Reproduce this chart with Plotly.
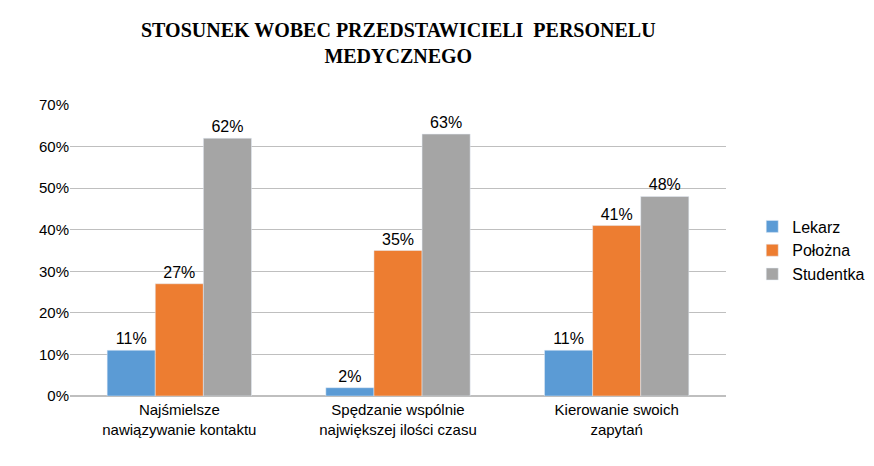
import plotly.graph_objects as go

categories = ["Najśmielsze<br>nawiązywanie kontaktu",
              "Spędzanie wspólnie<br>największej ilości czasu",
              "Kierowanie swoich<br>zapytań"]
lekarz = [11, 2, 11]
polozna = [27, 35, 41]
studentka = [62, 63, 48]

series = [("Lekarz", lekarz, "#5B9BD5"),
          ("Położna", polozna, "#ED7D31"),
          ("Studentka", studentka, "#A5A5A5")]

fig = go.Figure()
for name, vals, color in series:
    fig.add_trace(go.Bar(
        x=categories, y=vals, name=name,
        marker=dict(color=color),
        text=[f"{v}%" for v in vals], textposition="outside",
        textfont=dict(size=16, color="#000"), cliponaxis=False,
    ))

# title as a paper annotation so it sits where the reference has it
fig.add_annotation(
    text="<b>STOSUNEK WOBEC PRZEDSTAWICIELI  PERSONELU<br>MEDYCZNEGO</b>",
    xref="paper", yref="paper", x=0.5, y=1.0, yshift=88,
    xanchor="center", yanchor="top", showarrow=False,
    font=dict(family="Liberation Serif, Times New Roman", size=20),
)

fig.update_layout(
    width=874, height=466,
    paper_bgcolor="white", plot_bgcolor="white",
    font=dict(family="Liberation Sans, Arial", size=15, color="#000"),
    barmode="group", bargap=0.34, bargroupgap=0,
    margin=dict(l=62, r=156, t=97, b=78, autoexpand=False),
    legend=dict(x=1.04, y=0.5, yanchor="middle", font=dict(size=16),
                itemwidth=30, tracegroupgap=10),
    xaxis=dict(showline=True, linecolor="#BFBFBF", ticks="",
               tickfont=dict(size=15)),
    yaxis=dict(range=[0, 70], dtick=10, ticksuffix="%", gridcolor="#BFBFBF",
               showline=False, zeroline=True, zerolinecolor="#BFBFBF",
               tickfont=dict(size=15)),
)

fig.write_html("out.html")
